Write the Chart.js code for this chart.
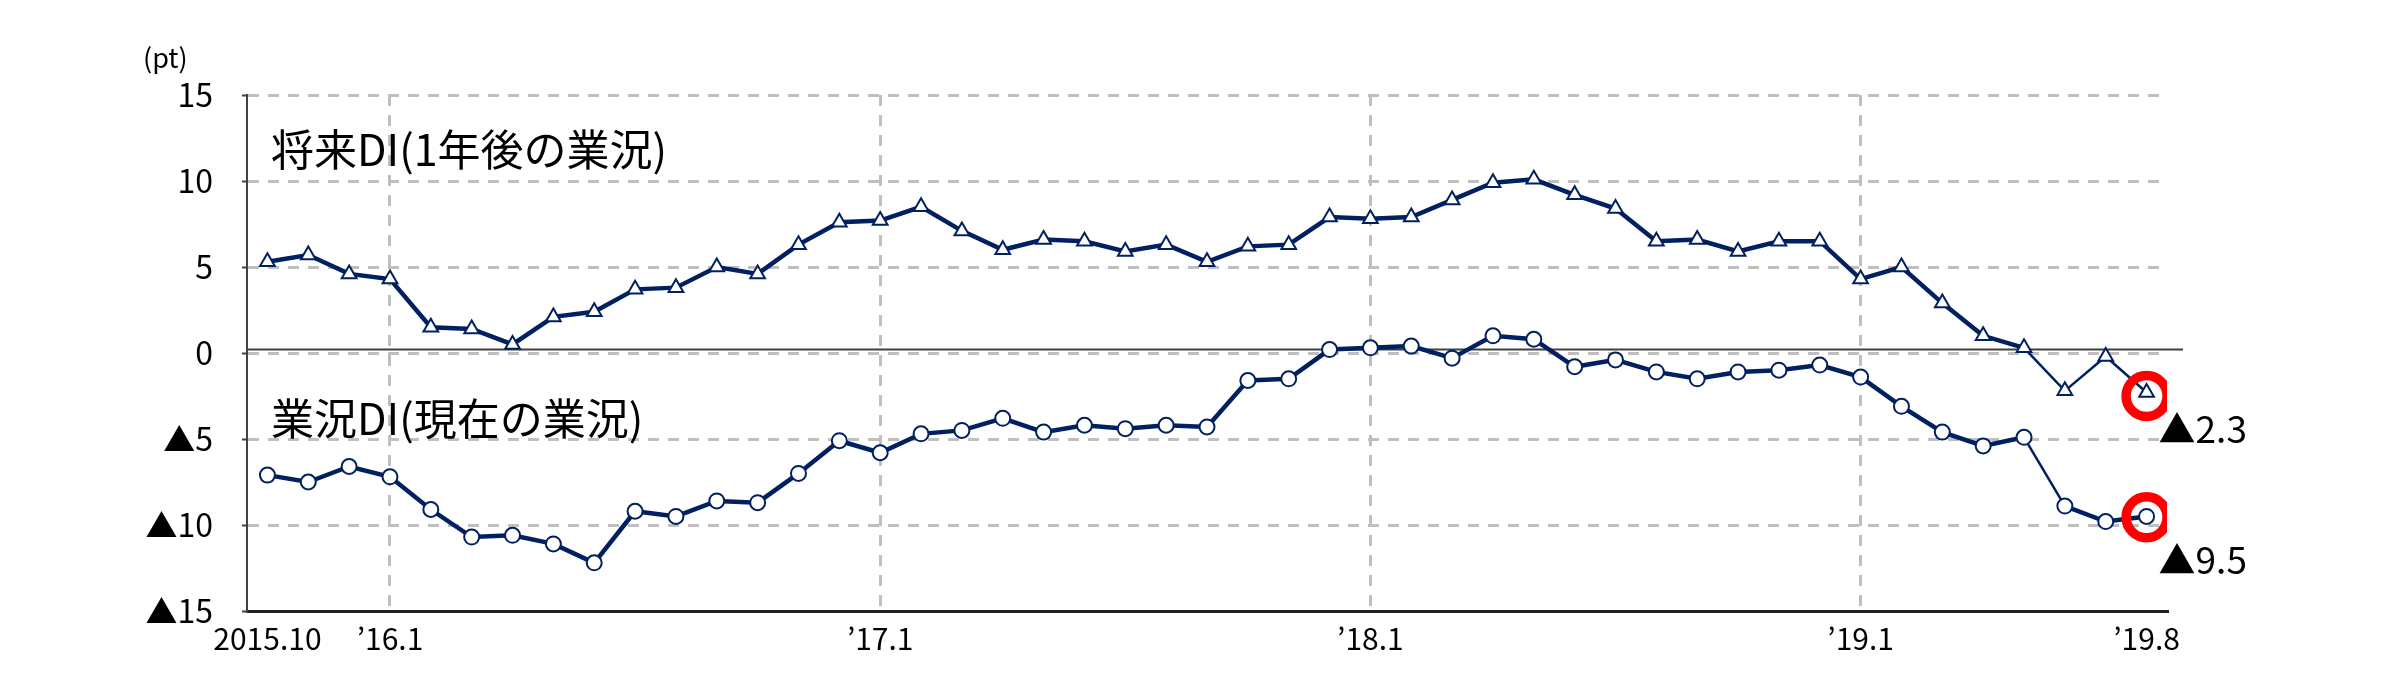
<!DOCTYPE html>
<html lang="ja">
<head>
<meta charset="utf-8">
<script src="https://cdn.jsdelivr.net/npm/chart.js@4.4.1/dist/chart.umd.min.js"></script>
<style>
  html, body { margin: 0; padding: 0; background: #fff; }
  #wrap { width: 2392px; height: 700px; }
</style>
</head>
<body>
<div id="wrap"><canvas id="diChart" width="2392" height="700"></canvas></div>
<script>
// monthly, 2015.10 .. 2019.8 (47 months)
const futureDI = [
  5.3, 5.7, 4.6,
  4.3, 1.5, 1.4, 0.5, 2.1, 2.4, 3.7, 3.8, 5.0, 4.6, 6.3, 7.6,
  7.7, 8.5, 7.1, 6.0, 6.6, 6.5, 5.9, 6.3, 5.3, 6.2, 6.3, 7.9,
  7.8, 7.9, 8.9, 9.9, 10.1, 9.2, 8.4, 6.5, 6.6, 5.9, 6.5, 6.5,
  4.3, 5.0, 2.9, 1.0, 0.3, -2.2, -0.2, -2.3,
];
const currentDI = [
  -7.1, -7.5, -6.6,
  -7.2, -9.1, -10.7, -10.6, -11.1, -12.2, -9.2, -9.5, -8.6, -8.7, -7.0, -5.1,
  -5.8, -4.7, -4.5, -3.8, -4.6, -4.2, -4.4, -4.2, -4.3, -1.6, -1.5, 0.2,
  0.3, 0.4, -0.3, 1.0, 0.8, -0.8, -0.4, -1.1, -1.5, -1.1, -1.0, -0.7,
  -1.4, -3.1, -4.6, -5.4, -4.9, -8.9, -9.8, -9.5,
];
const xTickIndex = [0, 3, 15, 27, 39, 46];
const xTickLabels = ["2015.10", "’16.1", "’17.1", "’18.1", "’19.1", "’19.8"];
const yTickValues = [15, 10, 5, 0, -5, -10, -15];
const seriesNames = ["将来DI(1年後の業況)", "業況DI(現在の業況)"];
const ringValues = [-2.5, -9.55];

const navy = "#002060";
const gridGray = "#bfbfbf";
const tickFont = "'Noto Sans CJK JP', 'Noto Sans', sans-serif";
const jpFont = "'Noto Sans CJK JP', sans-serif";

const fmt = (v) => (v < 0 ? "▲" + Math.abs(v) : String(v));
const lastIdx = futureDI.length - 1;

const labelPlugin = {
  id: "diLabels",
  beforeDatasetsDraw(chart) {
    const { ctx, chartArea, scales } = chart;
    // solid line just above the zero grid line
    const y0 = scales.y.getPixelForValue(0) - 3.5;
    ctx.save();
    ctx.strokeStyle = "#404040";
    ctx.lineWidth = 2;
    ctx.beginPath();
    ctx.moveTo(chartArea.left, y0);
    ctx.lineTo(chartArea.right + 16, y0);
    ctx.stroke();
    ctx.restore();
  },
  afterDatasetsDraw(chart) {
    const { ctx, chartArea, scales } = chart;
    ctx.save();
    ctx.fillStyle = "#000";
    ctx.textBaseline = "middle";
    ctx.textAlign = "left";

    ctx.font = "27px " + jpFont;
    ctx.fillText("(pt)", 143, 58);

    ctx.font = "43px " + jpFont;
    ctx.fillText(seriesNames[0], chartArea.left + 24, scales.y.getPixelForValue(11.8));
    ctx.fillText(seriesNames[1], chartArea.left + 24, scales.y.getPixelForValue(-3.8));

    const xr = scales.x.getPixelForValue(lastIdx) + 12;
    ctx.font = "37px " + tickFont;
    ctx.fillText(fmt(futureDI[lastIdx]), xr, scales.y.getPixelForValue(futureDI[lastIdx]) + 36);
    ctx.fillText(fmt(currentDI[lastIdx]), xr, scales.y.getPixelForValue(currentDI[lastIdx]) + 44);
    ctx.restore();
  },
};

const toPoints = (arr) => arr.map((v, i) => ({ x: i, y: v }));

new Chart(document.getElementById("diChart"), {
  type: "line",
  data: {
    datasets: [
      {
        label: "ring",
        data: ringValues.map((v) => ({ x: lastIdx, y: v })),
        showLine: false,
        pointStyle: "circle",
        pointRadius: 20.5,
        pointBorderWidth: 9.5,
        pointBorderColor: "#ff0000",
        pointBackgroundColor: "rgba(0,0,0,0)",
      },
      {
        label: seriesNames[0],
        data: toPoints(futureDI),
        borderColor: navy,
        borderWidth: 4.5,
        pointStyle: "triangle",
        pointRadius: 8.5,
        pointBorderWidth: 2,
        pointBorderColor: navy,
        pointBackgroundColor: "#fff",
        segment: { borderWidth: (c) => (c.p0DataIndex >= 43 ? 2.5 : 4.5) },
      },
      {
        label: seriesNames[1],
        data: toPoints(currentDI),
        borderColor: navy,
        borderWidth: 4.5,
        pointStyle: "circle",
        pointRadius: 7.5,
        pointBorderWidth: 2,
        pointBorderColor: navy,
        pointBackgroundColor: "#fff",
        segment: { borderWidth: (c) => (c.p0DataIndex === 43 ? 2.5 : 4.5) },
      },
    ],
  },
  options: {
    responsive: false,
    animation: false,
    devicePixelRatio: 1,
    layout: { padding: { top: 95, right: 225, left: 0, bottom: 0 } },
    plugins: { legend: { display: false }, tooltip: { enabled: false } },
    scales: {
      x: {
        type: "linear",
        min: -0.5,
        max: 46.5,
        afterBuildTicks: (s) => { s.ticks = xTickIndex.map((v) => ({ value: v })); },
        afterFit: (s) => { s.height = 89; },
        ticks: {
          autoSkip: false,
          maxRotation: 0,
          padding: 10,
          color: "#000",
          font: { family: tickFont, size: 30 },
          callback: (v) => xTickLabels[xTickIndex.indexOf(v)],
        },
        grid: {
          drawTicks: false,
          lineWidth: 3,
          color: (c) => (c.tick && (c.tick.value === 0 || c.tick.value === lastIdx) ? "rgba(0,0,0,0)" : gridGray),
        },
        border: { color: "#202020", width: 3, dash: [11, 9] },
      },
      y: {
        min: -15,
        max: 15,
        afterBuildTicks: (s) => { s.ticks = yTickValues.map((v) => ({ value: v })); },
        afterFit: (s) => { s.width = 247; },
        ticks: {
          padding: 29,
          color: "#000",
          font: { family: tickFont, size: 32 },
          callback: (v) => fmt(v),
        },
        grid: {
          lineWidth: 3,
          color: gridGray,
          drawTicks: true,
          tickLength: 5,
          tickColor: "#404040",
          tickWidth: 2,
        },
        border: { color: "#404040", width: 2, dash: [11, 9] },
      },
    },
  },
  plugins: [labelPlugin],
});
</script>
</body>
</html>
